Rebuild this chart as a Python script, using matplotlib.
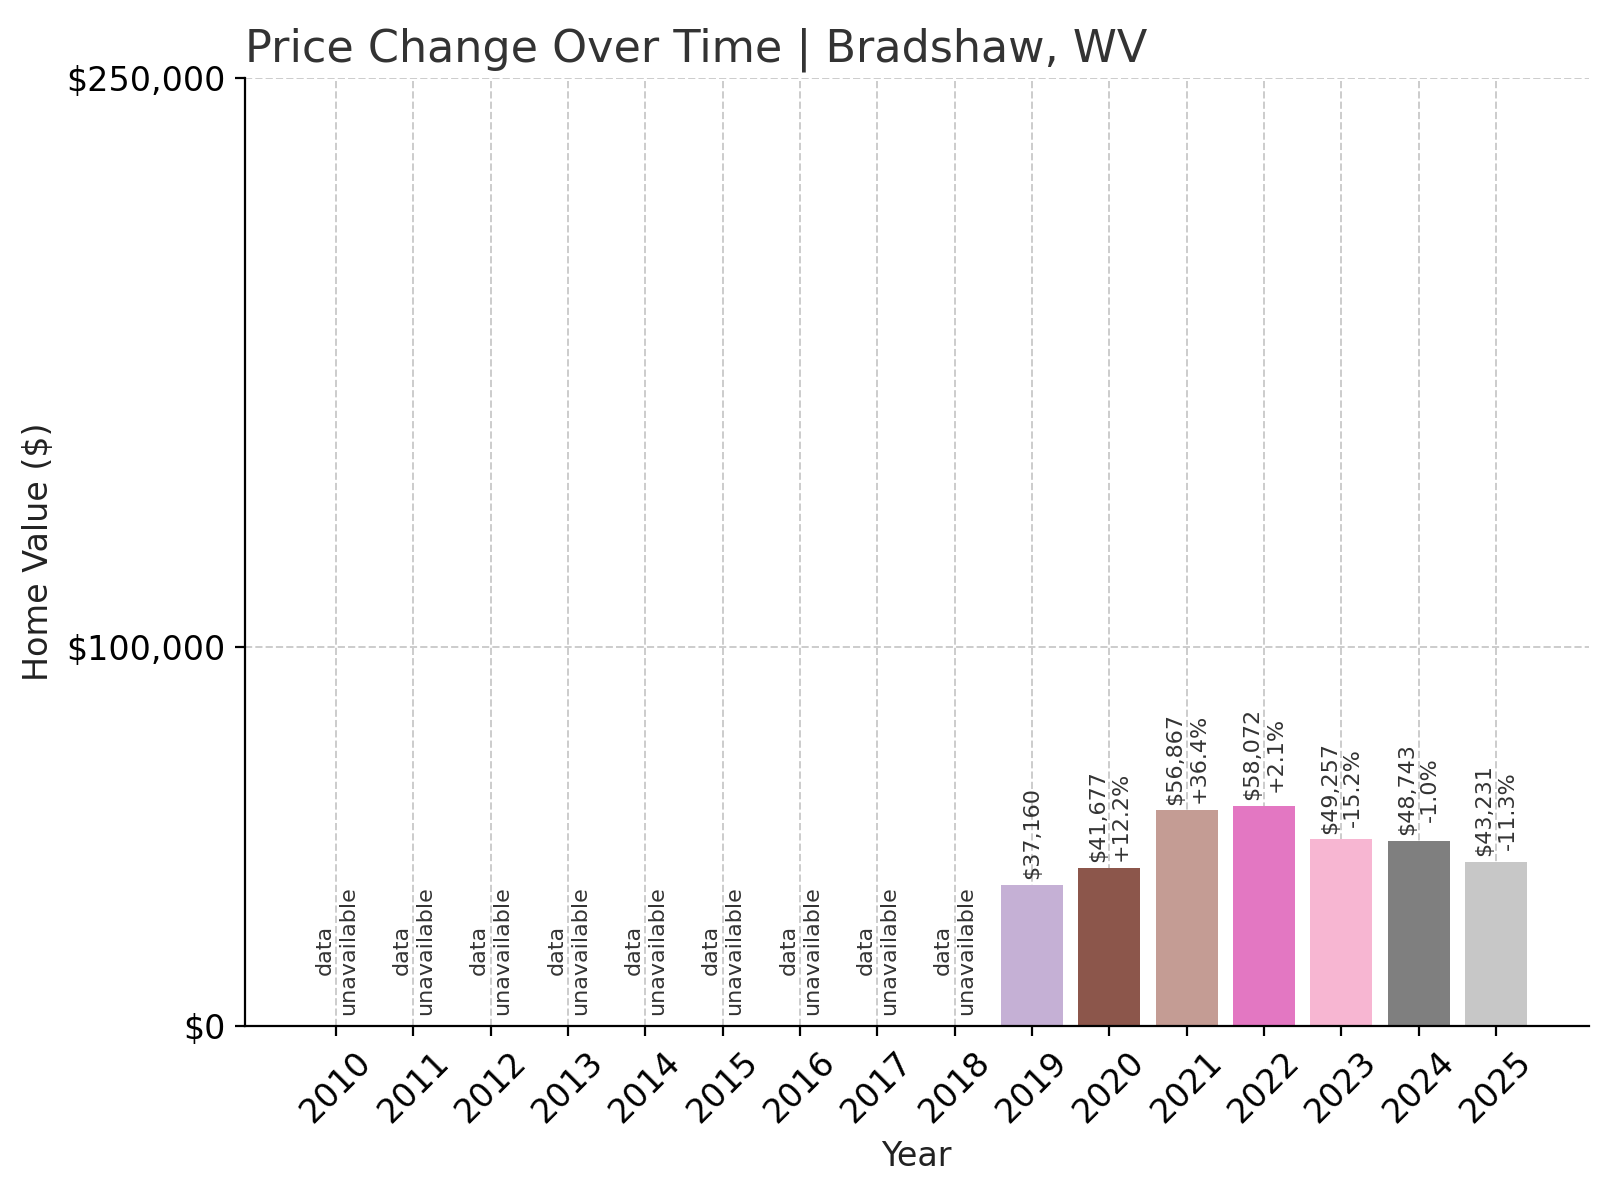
import matplotlib
matplotlib.use("Agg")
import matplotlib.pyplot as plt

years = [str(y) for y in range(2010, 2026)]
values = [None]*9 + [37160, 41677, 56867, 58072, 49257, 48743, 43231]
changes = [None]*10 + ["+12.2%", "+36.4%", "+2.1%", "-15.2%", "-1.0%", "-11.3%"]
yticks = [0, 100000, 250000]
ytick_labels = ["$0", "$100,000", "$250,000"]

fig = plt.figure(figsize=(8, 6), dpi=200)
ax = fig.add_axes([0.153, 0.145, 0.84, 0.79])
cmap = plt.get_cmap("tab20")
x = list(range(len(years)))
for i, v in enumerate(values):
    if v is None:
        ax.text(i, 3000, "data\nunavailable", rotation=90, ha="center", va="bottom",
                fontsize=8, color="#333333")
    else:
        ax.bar(i, v, width=0.8, color=cmap(i % 20), zorder=2)
        lbl = f"${v:,}" if changes[i] is None else f"${v:,}\n{changes[i]}"
        ax.text(i, v + 1500, lbl, rotation=90, ha="center", va="bottom",
                fontsize=8, color="#333333")
ax.set_xticks(x)
ax.set_xticklabels(years, rotation=45, fontsize=12)
ax.set_yticks(yticks)
ax.set_yticklabels(ytick_labels, fontsize=12)
ax.set_ylim(0, 250000)
ax.set_xlim(-1.18, 16.2)
ax.grid(True, linestyle="--", color="#cccccc", linewidth=0.7, zorder=0)
ax.spines["top"].set_visible(False)
ax.spines["right"].set_visible(False)
ax.set_xlabel("Year", fontsize=12, color="#222222")
ax.set_ylabel("Home Value ($)", fontsize=12, color="#222222")
ax.set_title("Price Change Over Time | Bradshaw, WV", fontsize=16, loc="left", color="#333333")
fig.savefig("out.png", dpi=200)
